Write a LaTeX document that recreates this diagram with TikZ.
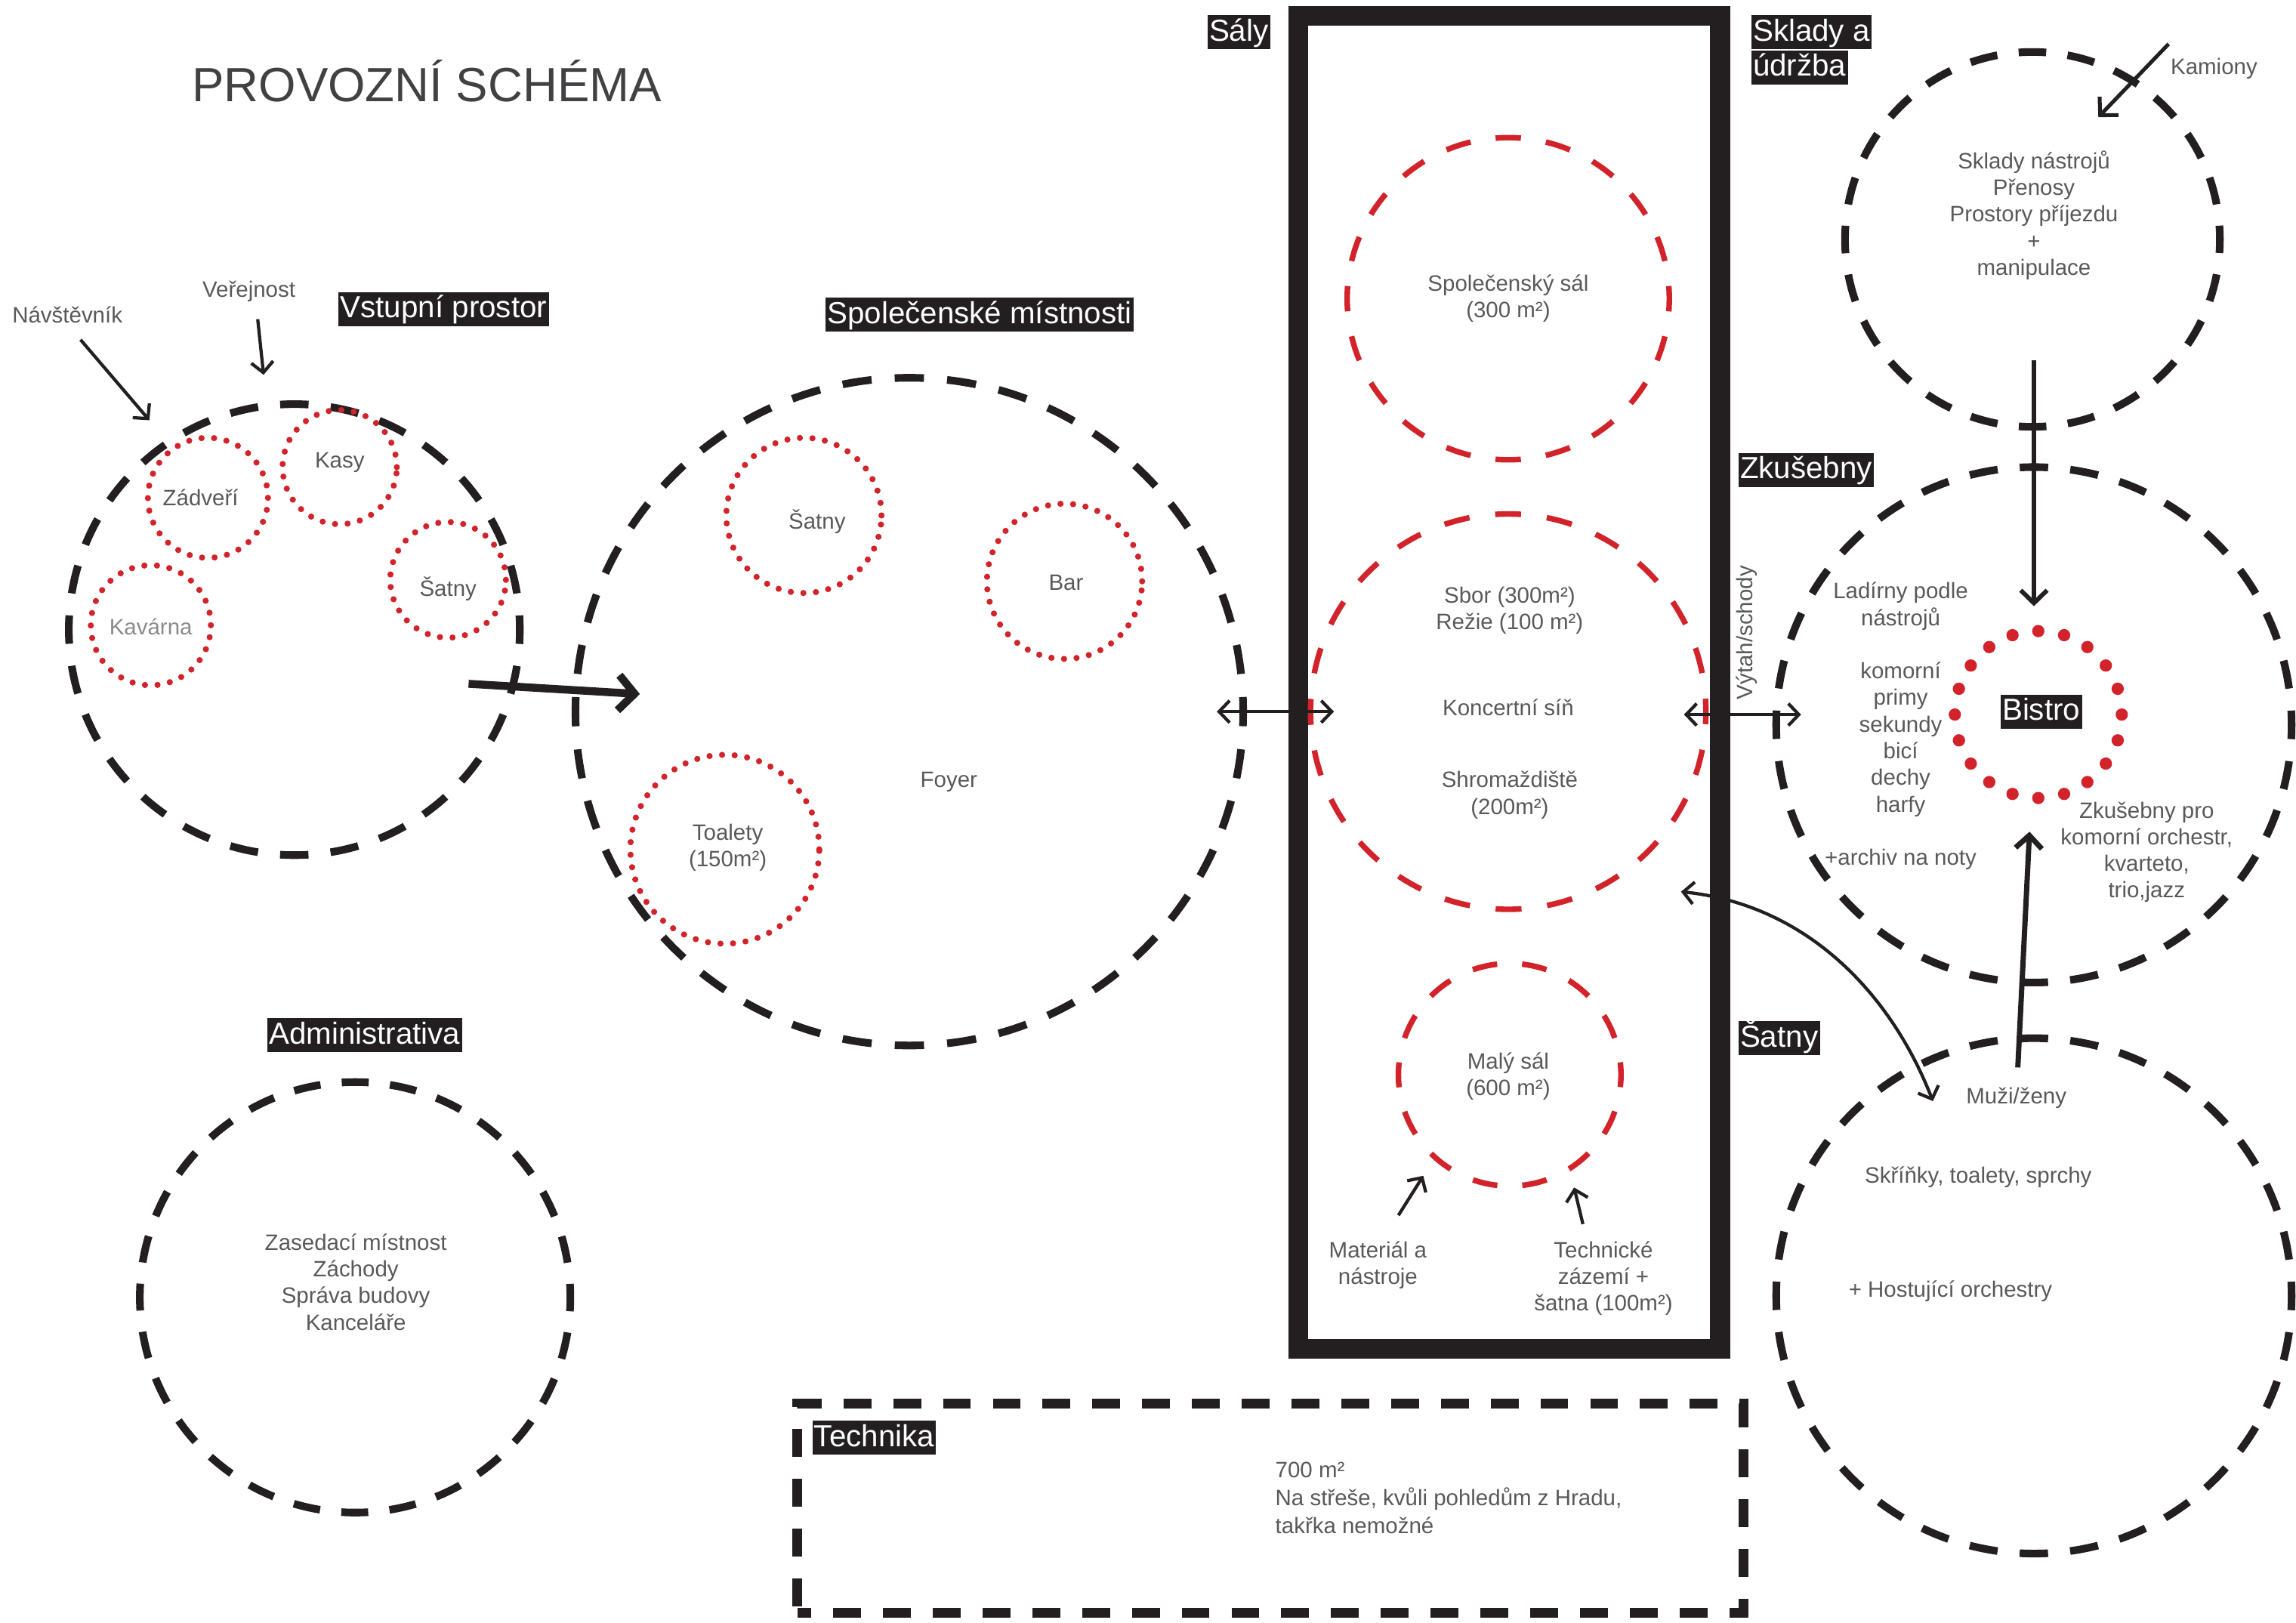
\documentclass[tikz,border=0pt]{standalone}
\usepackage{fontspec}
\setmainfont{Liberation Sans}
\usetikzlibrary{arrows.meta}
\definecolor{ink}{HTML}{231F20}
\definecolor{tgray}{HTML}{58595B}
\definecolor{lgray}{HTML}{8A8A8C}
\definecolor{rred}{HTML}{D2232A}
\definecolor{ttl}{HTML}{414042}
\begin{document}
\begin{tikzpicture}[x=0.5pt,y=-0.5pt,
  every node/.style={inner sep=0pt, outer sep=0pt},
  zone/.style={circle, draw=ink, line width=2.6pt},
  room/.style={circle, draw=rred, line width=2.1pt, dash pattern=on 0pt off 4.3pt, line cap=round},
  hall/.style={circle, draw=rred, line width=1.9pt},
  txt/.style={text=tgray, font=\fontsize{7.6}{9.1}\selectfont, align=center, yshift=-1pt},
  lbl/.style={fill=ink, text=white, font=\fontsize{10.4}{12}\selectfont, text height=8.4pt, text depth=2.4pt, inner xsep=0.6pt, inner ysep=0.4pt},
  thinarr/.style={draw=ink, line width=1.1pt, -{Straight Barb[length=3.6pt,width=7.5pt]}},
  midarr/.style={draw=ink, line width=1.6pt, -{Straight Barb[length=4.4pt,width=9pt]}},
  thickarr/.style={draw=ink, line width=2.7pt, -{Straight Barb[length=5.5pt,width=12pt]}},
  dblarr/.style={draw=ink, line width=1.1pt, {Straight Barb[length=3.6pt,width=7.5pt]}-{Straight Barb[length=3.6pt,width=7.5pt]}}
]
\useasboundingbox (0,0) rectangle (1568,1108);

% title
\node[font=\fontsize{16.4}{19}\selectfont, text=ttl] (title) at (291.5,55.5) {PROVOZNÍ SCHÉMA};

% ---------- black zones ----------
\node[zone, minimum size=154pt, dash pattern=on 9.7pt off 7.58pt, dash phase=4.85pt] (vstup) at (201,430) {};
\node[zone, minimum size=228pt, dash pattern=on 10pt off 7.91pt, dash phase=5pt] (spol) at (621,486) {};
\node[zone, minimum size=147pt, dash pattern=on 9.2pt off 7.29pt, dash phase=4.6pt] (admin) at (242.5,886) {};
\node[zone, minimum size=128pt, dash pattern=on 9.4pt off 7.36pt, dash phase=4.7pt] (sklady) at (1388,163.5) {};
\node[zone, minimum size=176pt, dash pattern=on 9.7pt off 7.58pt, dash phase=4.85pt] (zkus) at (1389,495) {};
\node[zone, minimum size=176pt, dash pattern=on 9.7pt off 7.58pt, dash phase=4.85pt] (satnyz) at (1389,885) {};

% Saly frame
\node[draw=ink, line width=6.75pt, minimum width=144.1pt, minimum height=455.25pt] (saly) at (1030.6,466) {};

% Technika
\node[draw=ink, line width=3.3pt, dash pattern=on 9.5pt off 7.5pt, dash phase=4.75pt, minimum width=323pt, minimum height=71.5pt] (tech) at (867.5,1030) {};

% ---------- red rooms ----------
\node[room, minimum size=41pt] (zadveri) at (142,340) {};
\node[room, minimum size=39pt] (kasy) at (232,319) {};
\node[room, minimum size=39.5pt] (satnyv) at (306,396) {};
\node[room, minimum size=41pt] (kavarna) at (103,427) {};
\node[room, minimum size=53pt] (satnys) at (549,352) {};
\node[room, minimum size=53pt] (bar) at (727,397) {};
\node[room, minimum size=64.5pt] (toalety) at (495,580) {};
\node[circle, draw=rred, line width=4.2pt, dash pattern=on 0pt off 8.954pt, line cap=round, minimum size=57pt] (bistroring) at (1392,488) {};

% red halls
\node[hall, minimum size=110pt, dash pattern=on 8.64pt off 8.64pt, dash phase=4.32pt] (spolsal) at (1030,204) {};
\node[hall, minimum size=135pt, dash pattern=on 8.84pt off 8.84pt, dash phase=4.42pt] (koncert) at (1030,486) {};
\node[hall, minimum size=76pt, dash pattern=on 8.53pt off 8.53pt, dash phase=4.26pt] (malysal) at (1031,734) {};

% ---------- labels ----------
\node[lbl] (lvstup) at (303,211) {Vstupní prostor};
\node[lbl] (lspol) at (669,215) {Společenské místnosti};
\node[lbl] (lsaly) at (846,22) {Sály};
\node[lbl, anchor=west] (lsklady1) at (1196,22) {Sklady a\ };
\node[lbl, anchor=west] (lsklady2) at (1196,46) {údržba};
\node[lbl] (lzkus) at (1233.5,321) {Zkušebny};
\node[lbl] (lsatny) at (1215,709) {Šatny};
\node[lbl] (ladmin) at (249,707) {Administrativa};
\node[lbl] (ltech) at (597,982) {Technika};
\node[lbl] (lbistro) at (1394,486) {Bistro};

% ---------- texts ----------
\node[txt] (tnavs) at (46,213) {Návštěvník};
\node[txt] (tver) at (170,197) {Veřejnost};
\node[txt] (tzad) at (137,338) {Zádveří};
\node[txt] (tkasy) at (232,314) {Kasy};
\node[txt] (tsatv) at (306,400) {Šatny};
\node[txt, text=lgray] (tkav) at (103,426) {Kavárna};
\node[txt] (tsats) at (558,354) {Šatny};
\node[txt] (tbar) at (728,396) {Bar};
\node[txt] (ttoal) at (497,577) {Toalety\\(150m²)};
\node[txt] (tfoyer) at (648,532) {Foyer};
\node[txt] (tspolsal) at (1030,202) {Společenský sál\\(300 m²)};
\node[txt] (tsbor) at (1031,415) {Sbor (300m²)\\Režie (100 m²)};
\node[txt] (tkonc) at (1030,481) {Koncertní síň};
\node[txt] (tshrom) at (1031,541) {Shromaždiště\\(200m²)};
\node[txt] (tmaly) at (1030,733) {Malý sál\\(600 m²)};
\node[txt] (tmat) at (941,862) {Materiál a\\nástroje};
\node[txt] (ttechz) at (1095,871) {Technické\\zázemí +\\šatna (100m²)};
\node[txt, rotate=90, yshift=1pt, xshift=1pt] (tvytah) at (1195,432) {Výtah/schody};
\node[txt] (tkam) at (1512,45) {Kamiony};
\node[txt] (tskl) at (1389,145) {Sklady nástrojů\\Přenosy\\Prostory příjezdu\\+\\manipulace};
\node[txt] (tlad) at (1298,412) {Ladírny podle\\nástrojů};
\node[txt] (tkom) at (1298,503) {komorní\\primy\\sekundy\\bicí\\dechy\\harfy};
\node[txt] (tarch) at (1298,585) {+archiv na noty};
\node[txt] (tzkpro) at (1466,580) {Zkušebny pro\\komorní orchestr,\\kvarteto,\\trio,jazz};
\node[txt] (tmuzi) at (1377,748) {Muži/ženy};
\node[txt] (tskr) at (1351,802) {Skříňky, toalety, sprchy};
\node[txt] (thost) at (1332,880) {+ Hostující orchestry};
\node[txt] (tadm) at (243,873.5) {Zasedací místnost\\Záchody\\Správa budovy\\Kanceláře};
\node[txt, align=left, anchor=west, font=\fontsize{7.6}{9.5}\selectfont] (ttech) at (871,1021) {700 m²\\Na střeše, kvůli pohledům z Hradu,\\takřka nemožné};

% ---------- connectors ----------
\coordinate (navsA) at (55,232);  \coordinate (navsB) at (102,287);
\coordinate (verA) at (176,218);  \coordinate (verB) at (180,256);
\coordinate (flowA) at (320,467); \coordinate (flowB) at (437,474);
\coordinate (dlA) at (831,486);   \coordinate (dlB) at (911,486);
\coordinate (drA) at (1150,488);  \coordinate (drB) at (1230,488);
\coordinate (kamA) at (1481,30);  \coordinate (kamB) at (1433,80);
\coordinate (skA) at (1389,246);  \coordinate (skB) at (1389,414);
\coordinate (upA) at (1378,729);  \coordinate (upB) at (1386,568);
\coordinate (curA) at (1148,609); \coordinate (curB) at (1320,752);
\coordinate (matA) at (955,830);  \coordinate (matB) at (972,803);
\coordinate (tecA) at (1081,836); \coordinate (tecB) at (1075,811);

\draw[thinarr] (navsA) -- (navsB);
\draw[thinarr] (verA) -- (verB);
\draw[thickarr] (flowA) -- (flowB);
\draw[dblarr] (dlA) -- (dlB);
\draw[dblarr] (drA) -- (drB);
\draw[midarr, line width=1.3pt] (kamA) -- (kamB);
\draw[midarr, line width=1.5pt] (skA) -- (skB);
\draw[midarr, line width=1.8pt] (upA) -- (upB);
\draw[dblarr] (curA) .. controls (1235,618) and (1292,680) .. (curB);
\draw[thinarr] (matA) -- (matB);
\draw[thinarr] (tecA) -- (tecB);
\end{tikzpicture}
\end{document}
